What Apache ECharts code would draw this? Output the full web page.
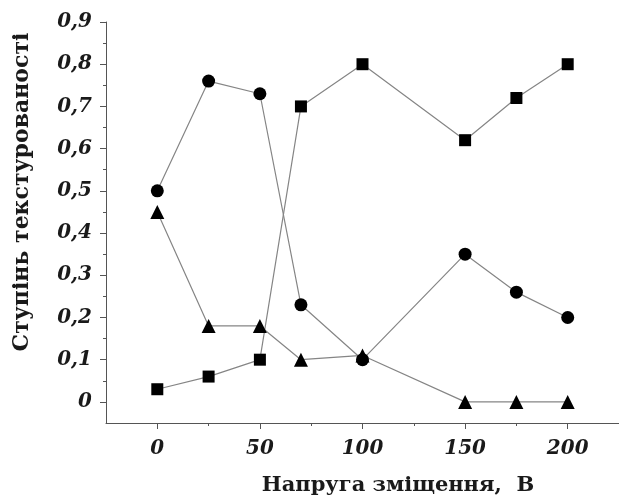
<!DOCTYPE html>
<html>
<head>
<meta charset="utf-8">
<script src="https://cdn.jsdelivr.net/npm/echarts@6/dist/echarts.min.js"></script>
<style>
  html, body { margin: 0; padding: 0; background: #fff; }
  #main { width: 619px; height: 501px; }
</style>
</head>
<body>
<div id="main"></div>
<script>
  // дані з графіка
  var voltage = [0, 25, 50, 70, 100, 150, 175, 200];
  var squares = [0.03, 0.06, 0.10, 0.70, 0.80, 0.62, 0.72, 0.80];
  var circles = [0.50, 0.76, 0.73, 0.23, 0.10, 0.35, 0.26, 0.20];
  var triangles = [0.45, 0.18, 0.18, 0.10, 0.11, 0.0, 0.0, 0.0];

  var xMajor = [0, 50, 100, 150, 200];
  var xMinor = [25, 75, 125, 175];
  var yMajor = [0, 0.1, 0.2, 0.3, 0.4, 0.5, 0.6, 0.7, 0.8, 0.9];
  var yMinor = [0.05, 0.15, 0.25, 0.35, 0.45, 0.55, 0.65, 0.75, 0.85];

  var xTitle = 'Напруга зміщення,  В';
  var yTitle = 'Ступінь текстурованості';

  function pairs(ys) {
    return voltage.map(function (x, i) { return [x, ys[i]]; });
  }

  var chart = echarts.init(document.getElementById('main'));

  var labelFont = {
    fontFamily: 'DejaVu Serif',
    fontStyle: 'italic',
    fontWeight: 'bold',
    fontSize: 20,
    color: '#1a1a1a'
  };
  var axisLine = { show: true, onZero: false, lineStyle: { color: '#555', width: 1 } };
  var noLine = { show: false, onZero: false };

  function makeSeries(name, ys, symbol, size) {
    return {
      name: name,
      type: 'line',
      data: pairs(ys),
      symbol: symbol,
      symbolSize: size,
      showAllSymbol: true,
      lineStyle: { color: '#858585', width: 1.2 },
      itemStyle: { color: '#000', borderWidth: 0 },
      emphasis: { disabled: true },
      animation: false
    };
  }

  var option = {
    animation: false,
    grid: { left: 106, right: 0, top: 22, bottom: 78, containLabel: false },
    xAxis: [
      {
        type: 'value', min: -25, max: 225,
        axisLine: axisLine,
        axisTick: { show: true, length: 6, customValues: xMajor, lineStyle: { color: '#555' } },
        axisLabel: Object.assign({ customValues: xMajor, margin: 16 }, labelFont),
        splitLine: { show: false }
      },
      {
        type: 'value', min: -25, max: 225, position: 'bottom',
        axisLine: noLine,
        axisTick: { show: true, length: 3, customValues: xMinor, lineStyle: { color: '#555' } },
        axisLabel: { show: false },
        splitLine: { show: false }
      }
    ],
    yAxis: [
      {
        type: 'value', min: -0.05, max: 0.9,
        axisLine: axisLine,
        axisTick: { show: true, length: 6, customValues: yMajor, lineStyle: { color: '#555' } },
        axisLabel: Object.assign({
          customValues: yMajor,
          margin: 14,
          formatter: function (v) {
            if (Math.abs(v) < 1e-9) return '0';
            return v.toFixed(1).replace('.', ',');
          }
        }, labelFont),
        splitLine: { show: false }
      },
      {
        type: 'value', min: -0.05, max: 0.9, position: 'left',
        axisLine: noLine,
        axisTick: { show: true, length: 3, customValues: yMinor, lineStyle: { color: '#555' } },
        axisLabel: { show: false },
        splitLine: { show: false }
      }
    ],
    graphic: [
      {
        type: 'text',
        x: 22, y: 192,
        rotation: Math.PI / 2,
        style: {
          text: yTitle,
          fontFamily: 'DejaVu Serif', fontWeight: 'bold', fontSize: 22,
          fill: '#1a1a1a', align: 'center', verticalAlign: 'middle'
        }
      },
      {
        type: 'text',
        x: 398, y: 486,
        style: {
          text: xTitle,
          fontFamily: 'DejaVu Serif', fontWeight: 'bold', fontSize: 21,
          fill: '#1a1a1a', align: 'center', verticalAlign: 'middle'
        }
      }
    ],
    series: [
      makeSeries('squares', squares, 'rect', 12),
      makeSeries('circles', circles, 'circle', 13),
      makeSeries('triangles', triangles, 'triangle', 14)
    ]
  };

  chart.setOption(option);
</script>
</body>
</html>
